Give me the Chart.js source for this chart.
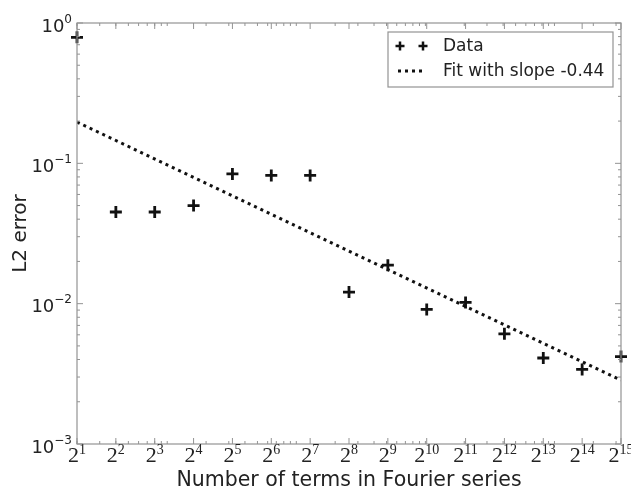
<!DOCTYPE html>
<html>
<head>
<meta charset="utf-8">
<script src="https://cdn.jsdelivr.net/npm/chart.js@4"></script>
<style>
  html, body { margin: 0; padding: 0; background: #fff; }
  #wrap { width: 631px; height: 493px; }
</style>
</head>
<body>
<div id="wrap"><canvas id="errChart"></canvas></div>
<script>
// Number of terms (x): powers of two, label = base + exponent
const xTicks = [2, 4, 8, 16, 32, 64, 128, 256, 512, 1024, 2048, 4096, 8192, 16384, 32768];
const xTickExps = ['1', '2', '3', '4', '5', '6', '7', '8', '9', '10', '11', '12', '13', '14', '15'];

// L2 error measured for each number of terms
const dataErr = [0.79, 0.045, 0.045, 0.050, 0.084, 0.082, 0.082, 0.0121, 0.0188, 0.0091, 0.0102, 0.0061, 0.0041, 0.0034, 0.0042];

// Fitted line end points
const fitX = [2, 32768];
const fitY = [0.197, 0.00285];

const yTicks = [0.001, 0.01, 0.1, 1];
const yTickExps = ['-3', '-2', '-1', '0'];

const frameColor = '#939393';
const textColor = '#222';

// base with a raised exponent, e.g. 10^-2
function drawPower(ctx, base, exp, x, y, baseFont, expFont, align, raise) {
    ctx.font = baseFont;
    const wb = ctx.measureText(base).width;
    ctx.font = expFont;
    const we = ctx.measureText(exp).width;
    const x0 = align === 'right' ? x - wb - we : x - (wb + we) / 2;
    ctx.textAlign = 'left';
    ctx.textBaseline = 'alphabetic';
    ctx.font = baseFont;
    ctx.fillText(base, x0, y);
    ctx.font = expFont;
    ctx.fillText(exp, x0 + wb, y - raise);
}

// Draws the box frame with inward major/minor ticks, plus the tick labels
const framePlugin = {
    id: 'frame',
    afterDraw(chart) {
        const { ctx, chartArea: a, scales } = chart;
        ctx.save();
        ctx.strokeStyle = frameColor;
        ctx.lineWidth = 1.2;
        ctx.strokeRect(a.left, a.top, a.right - a.left, a.bottom - a.top);
        ctx.lineWidth = 1;
        ctx.beginPath();
        // y ticks
        for (let e = -3; e <= 0; e++) {
            for (let m = 1; m <= 9; m++) {
                const v = m * Math.pow(10, e);
                if (v > 1) break;
                const py = scales.y.getPixelForValue(v);
                const len = m === 1 ? 6 : 3;
                ctx.moveTo(a.left, py); ctx.lineTo(a.left + len, py);
                ctx.moveTo(a.right, py); ctx.lineTo(a.right - len, py);
            }
        }
        // x minor ticks (decade based) and majors at powers of two
        for (let e = 0; e <= 4; e++) {
            for (let m = 1; m <= 9; m++) {
                const v = m * Math.pow(10, e);
                if (v < 2 || v > 32768) continue;
                const px = scales.x.getPixelForValue(v);
                ctx.moveTo(px, a.bottom); ctx.lineTo(px, a.bottom - 3);
                ctx.moveTo(px, a.top); ctx.lineTo(px, a.top + 3);
            }
        }
        xTicks.forEach(v => {
            const px = scales.x.getPixelForValue(v);
            ctx.moveTo(px, a.bottom); ctx.lineTo(px, a.bottom - 6);
            ctx.moveTo(px, a.top); ctx.lineTo(px, a.top + 6);
        });
        ctx.stroke();

        // tick labels
        ctx.fillStyle = textColor;
        yTicks.forEach((v, i) => {
            const py = scales.y.getPixelForValue(v);
            drawPower(ctx, '10', yTickExps[i].replace('-', '\u2212'), a.left - 5, py + 8.5,
                '18px "DejaVu Sans"', '12px "DejaVu Sans"', 'right', 9);
        });
        xTicks.forEach((v, i) => {
            const px = scales.x.getPixelForValue(v);
            drawPower(ctx, '2', xTickExps[i], px, a.bottom + 18,
                '22px "Liberation Serif"', '14px "Liberation Serif"', 'center', 8);
        });
        ctx.restore();
    }
};

// Legend box in the upper right corner of the plot
const legendPlugin = {
    id: 'boxLegend',
    afterDraw(chart) {
        const { ctx, chartArea: a } = chart;
        const ds = chart.data.datasets;
        const w = 225, h = 55;
        const x0 = a.right - 8 - w, y0 = a.top + 9;
        ctx.save();
        ctx.fillStyle = '#fff';
        ctx.fillRect(x0, y0, w, h);
        ctx.strokeStyle = frameColor;
        ctx.lineWidth = 1.2;
        ctx.strokeRect(x0, y0, w, h);

        // Data row: two crosses
        const r1 = y0 + 14;
        ctx.strokeStyle = '#111';
        ctx.lineWidth = 2.5;
        [x0 + 12, x0 + 35].forEach(cx => {
            ctx.beginPath();
            ctx.moveTo(cx - 4.5, r1); ctx.lineTo(cx + 4.5, r1);
            ctx.moveTo(cx, r1 - 4.5); ctx.lineTo(cx, r1 + 4.5);
            ctx.stroke();
        });
        // Fit row: dotted line
        const r2 = y0 + 39;
        ctx.setLineDash([3, 4]);
        ctx.lineWidth = 3;
        ctx.beginPath();
        ctx.moveTo(x0 + 10, r2); ctx.lineTo(x0 + 38, r2);
        ctx.stroke();
        ctx.setLineDash([]);

        ctx.fillStyle = textColor;
        ctx.font = '17px "DejaVu Sans"';
        ctx.textBaseline = 'middle';
        ctx.fillText(ds[0].label, x0 + 55, r1 + 1);
        ctx.fillText(ds[1].label, x0 + 55, r2 + 1);
        ctx.restore();
    }
};

const ctx = document.getElementById('errChart').getContext('2d');
new Chart(ctx, {
    type: 'scatter',
    data: {
        datasets: [
            {
                label: 'Data',
                data: xTicks.map((x, i) => ({ x: x, y: dataErr[i] })),
                pointStyle: 'cross',
                pointRadius: 6,
                pointBorderWidth: 2.8,
                borderColor: '#111',
                backgroundColor: '#111',
                showLine: false,
                clip: false
            },
            {
                label: 'Fit with slope -0.44',
                type: 'line',
                data: fitX.map((x, i) => ({ x: x, y: fitY[i] })),
                borderColor: '#111',
                borderWidth: 3,
                borderDash: [3, 4],
                pointRadius: 0,
                fill: false
            }
        ]
    },
    options: {
        responsive: true,
        maintainAspectRatio: false,
        animation: false,
        layout: { padding: { top: 23, right: 10, left: 0, bottom: 0 } },
        plugins: {
            legend: { display: false },
            tooltip: { enabled: false }
        },
        scales: {
            x: {
                type: 'logarithmic',
                min: 2,
                max: 32768,
                afterBuildTicks: scale => { scale.ticks = xTicks.map(v => ({ value: v })); },
                afterFit: scale => { scale.height = 49; },
                ticks: { display: false },
                grid: { display: false },
                border: { display: false },
                title: {
                    display: true,
                    text: 'Number of terms in Fourier series',
                    color: textColor,
                    font: { family: '"DejaVu Sans"', size: 20.5 },
                    padding: { top: 0, bottom: 0 }
                }
            },
            y: {
                type: 'logarithmic',
                min: 0.001,
                max: 1,
                afterBuildTicks: scale => { scale.ticks = yTicks.map(v => ({ value: v })); },
                afterFit: scale => { scale.width = 77; },
                ticks: { display: false },
                grid: { display: false },
                border: { display: false },
                title: {
                    display: true,
                    text: 'L2 error',
                    color: textColor,
                    font: { family: '"DejaVu Sans"', size: 20 },
                    padding: { top: 9, bottom: 9 }
                }
            }
        }
    },
    plugins: [framePlugin, legendPlugin]
});
</script>
</body>
</html>
